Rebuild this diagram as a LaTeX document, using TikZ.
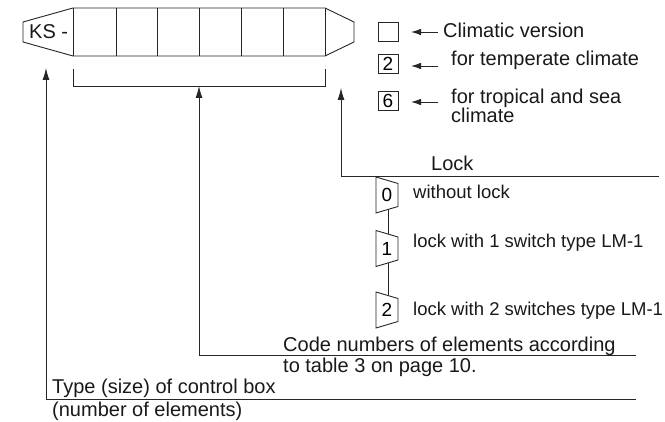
\documentclass[tikz,border=0pt]{standalone}
\usepackage{fontspec}
\setmainfont{Liberation Sans}
\usetikzlibrary{arrows.meta}
\begin{document}
\begin{tikzpicture}[x=1pt,y=-1pt,
  line/.style={draw=black!85,line width=0.9pt},
  arr/.style={line,-{Latex[length=12pt,width=7pt]}},
  sarr/.style={line,-{Latex[length=10pt,width=6.5pt]}},
  big/.style={font=\fontsize{20}{13.5}\selectfont,inner sep=0pt,anchor=base west,text=black!90},
  small/.style={font=\fontsize{18.5}{14}\selectfont,inner sep=0pt,anchor=base west,text=black!90},
  numbox/.style={draw=black!85,line width=0.9pt,minimum width=20pt,minimum height=19pt,inner sep=0pt,font=\fontsize{19}{19}\selectfont},
  num/.style={inner sep=0pt,font=\fontsize{19}{19}\selectfont}
]
\useasboundingbox (0,0) rectangle (665,422);
% main bar
\draw[line] (73,8) -- (325,8) -- (354,22) -- (354,42) -- (325,56) -- (73,56) -- (23,42) -- (23,22) -- cycle;
\foreach \x in {73,116,157,199,241,283,325} \draw[line] (\x,8) -- (\x,56);
\node[big] (ks) at (29,38.5) {KS -};
% bracket
\coordinate (brL) at (73,69);
\coordinate (brR) at (325,69);
\coordinate (brM) at (199,86);
\draw[line] (brL) -- (73,86) -- (325,86) -- (brR);
% arrow targets
\coordinate (typeT) at (46,68);
\coordinate (lockT) at (341,88);
% leader lines
\coordinate (typeE) at (636,399);
\coordinate (typeC) at (46,399);
\coordinate (codeE) at (636,355);
\coordinate (codeC) at (199,355);
\coordinate (lockE) at (659,176);
\coordinate (lockC) at (341,176);
\draw[arr] (typeE) -- (typeC) -- (typeT);
\draw[arr] (codeE) -- (codeC) -- (brM);
\draw[arr] (lockE) -- (lockC) -- (lockT);
% labels of leaders
\node[big] (type1) at (52,394) {Type (size) of control box};
\node[big] (type2) at (52,417) {(number of elements)};
\node[big] (code1) at (283,352) {Code numbers of elements according};
\node[big] (code2) at (283,373) {to table 3 on page 10.};
\node[big] (lock) at (431,171) {Lock};
% climatic version
\node[numbox] (cv0) at (388,31.5) {};
\node[numbox] (cv2) at (388,64) {2};
\node[numbox] (cv6) at (388,101) {6};
\coordinate (a0) at (438,32);
\coordinate (t0) at (411,32);
\coordinate (a2) at (438,66);
\coordinate (t2) at (411,66);
\coordinate (a6) at (438,102);
\coordinate (t6) at (411,102);
\draw[sarr] (a0) -- (t0);
\draw[sarr] (a2) -- (t2);
\draw[sarr] (a6) -- (t6);
\node[big] (cvt) at (443,38) {Climatic version};
\node[big] (cvt2) at (451,66) {for temperate climate};
\node[big] (cvt6) at (451,104) {for tropical and sea};
\node[big] (cvt6b) at (451,123) {climate};
% lock options
\foreach \n/\c in {0/195,1/248.5,2/310}{
  \draw[line] (376,{\c-18}) -- (398,{\c-11.5}) -- (398,{\c+11.5}) -- (376,{\c+18}) -- cycle;
  \node[num] (l\n) at (387,\c) {\n};
  \coordinate (l\n t) at (388,{\c-14.5});
  \coordinate (l\n b) at (388,{\c+14.5});
}
\draw[line] (l0b) -- (l1t);
\draw[line] (l1b) -- (l2t);
\node[small] (o0) at (413,199) {without lock};
\node[small] (o1) at (413,248) {lock with 1 switch type LM-1};
\node[small] (o2) at (413,316) {lock with 2 switches type LM-1};
\end{tikzpicture}
\end{document}
